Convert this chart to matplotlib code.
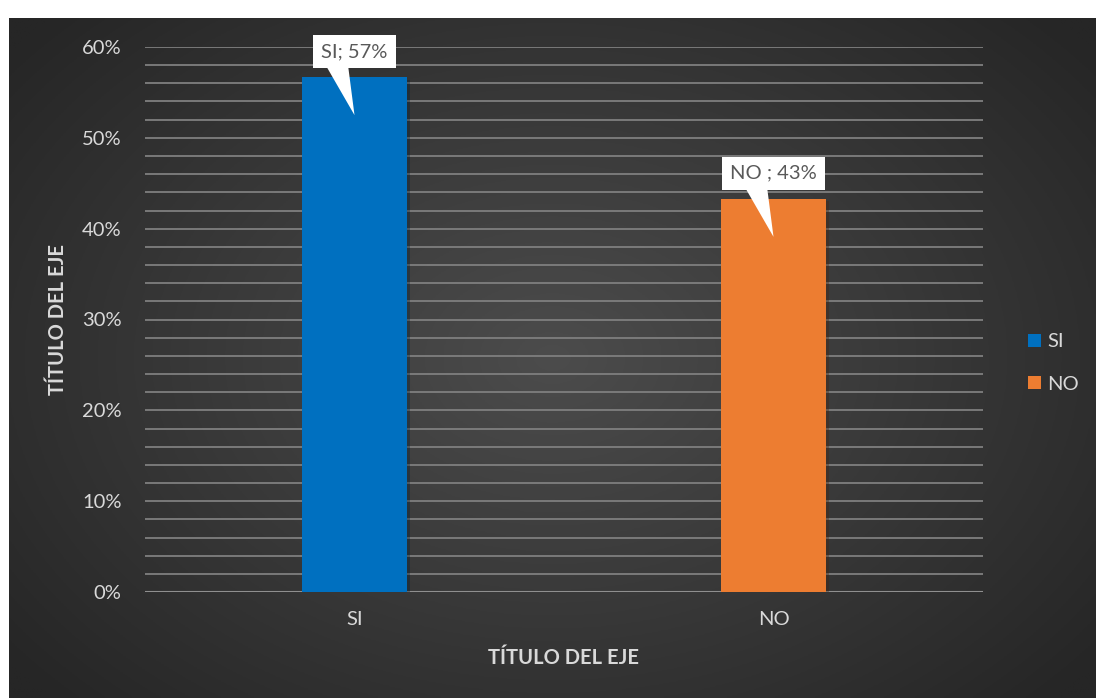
import numpy as np
import matplotlib
matplotlib.use("Agg")
import matplotlib.pyplot as plt
from matplotlib.patches import Polygon, Patch
import matplotlib.patheffects as pe

categories = ["SI", "NO"]
values = [0.567, 0.433]
point_labels = ["SI; 57%", "NO ; 43%"]
colors = ["#0070C0", "#ED7D31"]
yticks = [0.0, 0.1, 0.2, 0.3, 0.4, 0.5, 0.6]
ytick_labels = ["0%", "10%", "20%", "30%", "40%", "50%", "60%"]

plt.rcParams["font.family"] = ["Lato", "DejaVu Sans"]

W, H = 1096, 698
fig = plt.figure(figsize=(W / 100, H / 100), dpi=100)
fig.patch.set_facecolor("white")

# radial gradient background of the chart area
bg = fig.add_axes([9 / W, 0, 1 - 9 / W, (H - 18) / H])
bg.set_axis_off()
gx, gy = np.meshgrid(np.linspace(0, 1, 400), np.linspace(0, 1, 260))
r = np.sqrt(((gx - 0.5) / 0.75) ** 2 + ((gy - 0.5) / 0.85) ** 2)
r = np.clip(r / 0.85, 0, 1)
inner, outer = 0x4c, 0x26
shade = (inner + (outer - inner) * r) / 255.0
bg.imshow(np.dstack([shade, shade, shade]), aspect="auto", extent=[0, 1, 0, 1])

ax = fig.add_axes([145 / W, 1 - 592 / H, (983 - 145) / W, (592 - 47) / H])
ax.patch.set_alpha(0)
for s in ax.spines.values():
    s.set_visible(False)

ax.set_xlim(-0.5, 1.5)
ax.set_ylim(0, 0.6)
ax.set_yticks(yticks)
ax.set_yticklabels(ytick_labels)
ax.set_yticks(np.arange(0, 0.601, 0.02), minor=True)
ax.grid(True, axis="y", which="both", color="#7f7f7f", linewidth=1.3)
ax.set_axisbelow(True)
ax.axhline(0, color="#8f8f8f", linewidth=1.5, zorder=1)
ax.tick_params(axis="both", which="both", length=0, colors="#d9d9d9", labelsize=14.5)
ax.tick_params(axis="y", pad=17)
ax.tick_params(axis="x", pad=14)

x = np.arange(len(categories))
bars = ax.bar(x, values, width=0.25, color=colors, zorder=3)
for b in bars:
    b.set_path_effects([pe.SimplePatchShadow(offset=(2, -2), alpha=0.35), pe.Normal()])
ax.set_xticks(x)
ax.set_xticklabels(categories)

# callout labels
for xi, v, lab in zip(x, values, point_labels):
    tri = Polygon([[xi - 0.08, v + 0.022], [xi - 0.018, v + 0.022], [xi, v - 0.042]],
                  closed=True, facecolor="white", edgecolor="none", zorder=5)
    ax.add_patch(tri)
    ax.text(xi, v + 0.028, lab, ha="center", va="center", fontsize=14.5, color="#595959",
            zorder=6, bbox=dict(boxstyle="square,pad=0.4", fc="white", ec="none"))

ax.set_xlabel("TÍTULO DEL EJE", fontsize=14.5, fontweight="bold", color="#d9d9d9", labelpad=14)
ax.set_ylabel("TÍTULO DEL EJE", fontsize=14.5, fontweight="bold", color="#d9d9d9", labelpad=10)

handles = [Patch(facecolor=c, edgecolor="none") for c in colors]
leg = fig.legend(handles, categories, loc="center left", bbox_to_anchor=(1010 / W, 1 - 363 / H),
                 frameon=False, fontsize=14.5, labelspacing=1.25, handlelength=0.65,
                 handleheight=0.65, handletextpad=0.3)
for t in leg.get_texts():
    t.set_color("#d9d9d9")

fig.savefig("out.png", dpi=100, facecolor=fig.get_facecolor())
